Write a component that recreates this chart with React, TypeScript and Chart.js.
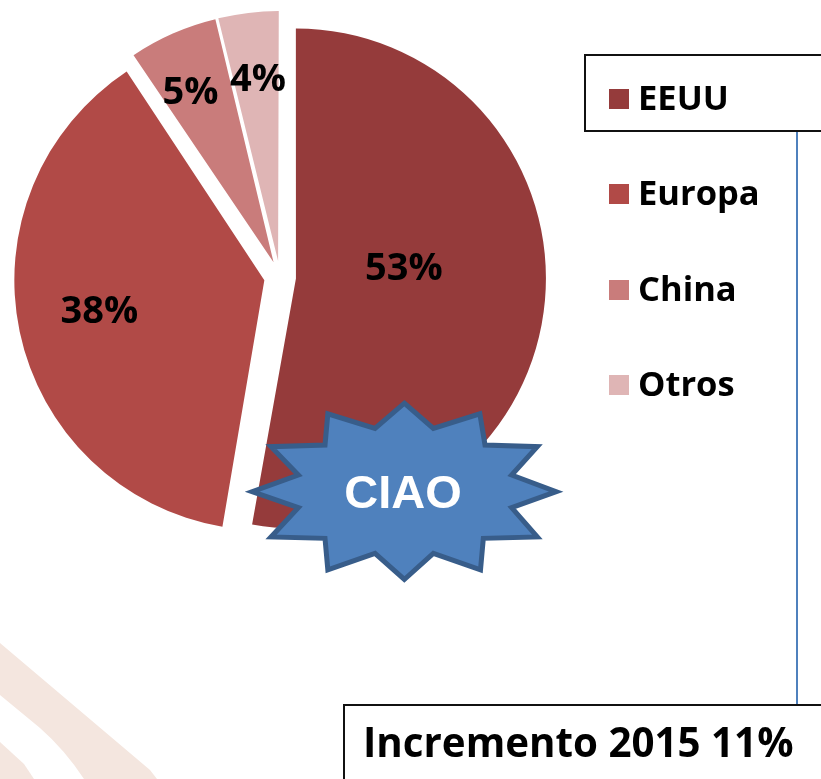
import React, { useEffect, useRef } from "react";
import { Chart, registerables } from "chart.js";

Chart.register(...registerables);

const categories = ["EEUU", "Europa", "China", "Otros"];
const shares = [52.8, 37.8, 5.6, 3.8];
const shareLabels = ["53%", "38%", "5%", "4%"];
const colors = ["#953B3B", "#B14A47", "#C97C7B", "#DFB5B5"];
const note = "Incremento 2015 11%";
const badge = "CIAO";

const TEXT_FONT = '"Open Sans", "Noto Sans", sans-serif';
const PIE_RADIUS = 250;
const EXPLODE = 64; // Chart.js translates an arc by offset / 4
const EDGE_FIX = 0.0105;
const labelShift = [
  [108, -9],
  [-165, 32],
  [-83, -169],
  [-20, -181],
];
const legendRowsY = [100, 195, 291, 386];
const starOuter = [
  [553, 30], [783, 68], [958, 168], [1025, 305], [958, 443], [785, 543],
  [553, 578], [320, 543], [147, 443], [80, 305], [147, 168], [320, 68],
];
const starInner = [
  [640, 115], [795, 165], [875, 255], [875, 353], [790, 445], [640, 490],
  [465, 490], [315, 445], [235, 353], [235, 255], [315, 165], [465, 115],
];

const backdrop = {
  id: "backdrop",
  afterDatasetUpdate(chart: any) {
    chart.getDatasetMeta(0).data.forEach((el: any) => {
      const span = el.endAngle - el.startAngle;
      const fix = 1 - Math.sin(Math.min(Math.PI, span));
      el.outerRadius = PIE_RADIUS - (EXPLODE / 4) * fix;
      el.startAngle -= EDGE_FIX;
      el.endAngle += EDGE_FIX;
    });
  },
  beforeDatasetsDraw(chart: any) {
    const c = chart.ctx;
    c.save();
    c.fillStyle = "#F4E6DF";
    c.beginPath();
    c.moveTo(0, 643);
    c.lineTo(150, 770);
    c.lineTo(157, 779);
    c.lineTo(84, 779);
    c.quadraticCurveTo(65, 750, 40, 728);
    c.lineTo(0, 695);
    c.closePath();
    c.fill();
    c.beginPath();
    c.moveTo(0, 742);
    c.lineTo(24, 764);
    c.lineTo(34, 779);
    c.lineTo(0, 779);
    c.closePath();
    c.fill();
    c.restore();
  },
};

const overlay = {
  id: "overlay",
  afterDatasetsDraw(chart: any) {
    const c = chart.ctx;
    c.save();
    // slice percentages
    c.fillStyle = "#000";
    c.textAlign = "center";
    c.textBaseline = "middle";
    c.font = `bold 38px ${TEXT_FONT}`;
    chart.getDatasetMeta(0).data.forEach((el: any, i: number) => {
      const mid = (el.startAngle + el.endAngle) / 2;
      const off = el.options.offset / 4;
      const x = el.x + Math.cos(mid) * off + labelShift[i][0];
      const y = el.y + Math.sin(mid) * off + labelShift[i][1];
      c.fillText(shareLabels[i], x, y);
    });

    // connector + boxes
    c.strokeStyle = "#4F81BD";
    c.lineWidth = 2;
    c.beginPath();
    c.moveTo(797, 131);
    c.lineTo(797, 705);
    c.stroke();

    c.strokeStyle = "#111";
    c.lineWidth = 2;
    c.strokeRect(585, 55, 260, 76);
    c.strokeRect(344, 705, 520, 100);

    // legend
    c.textAlign = "left";
    c.font = `bold 34.5px ${TEXT_FONT}`;
    categories.forEach((name, i) => {
      const y = legendRowsY[i];
      c.fillStyle = colors[i];
      c.fillRect(609, y - 11, 20, 20);
      c.fillStyle = "#000";
      c.fillText(name, 638, y);
    });

    // note
    c.font = `bold 40.3px ${TEXT_FONT}`;
    c.fillStyle = "#000";
    c.fillText(note, 363, 746);

    // starburst
    const sx = 553;
    const sy = 305;
    c.beginPath();
    starOuter.forEach((p, i) => {
      const q = starInner[i];
      const k = i % 3 === 0 ? 0.965 : 0.985;
      const ox = 220 + (sx + (p[0] - sx) * k) / 3;
      const oy = 390 + (sy + (p[1] - sy) * k) / 3;
      if (i === 0) c.moveTo(ox, oy);
      else c.lineTo(ox, oy);
      c.lineTo(220 + q[0] / 3, 390 + q[1] / 3);
    });
    c.closePath();
    c.fillStyle = "#4F81BD";
    c.fill();
    c.strokeStyle = "#385D8A";
    c.lineWidth = 5;
    c.lineJoin = "miter";
    c.stroke();

    c.fillStyle = "#fff";
    c.textAlign = "center";
    c.font = 'bold 47px "Liberation Sans", Arial, sans-serif';
    c.fillText(badge, 403, 495);
    c.restore();
  },
};

export default function App() {
  const ref = useRef<HTMLCanvasElement | null>(null);
  useEffect(() => {
    document.body.style.margin = "0";
    const chart = new Chart(ref.current as HTMLCanvasElement, {
      type: "pie",
      data: {
        labels: categories,
        datasets: [
          {
            data: shares,
            backgroundColor: colors,
            borderWidth: 0,
            offset: EXPLODE,
          },
        ],
      },
      options: {
        responsive: false,
        animation: false,
        radius: PIE_RADIUS,
        layout: { padding: { left: 0, top: 0, right: 261, bottom: 225 } },
        plugins: { legend: { display: false }, tooltip: { enabled: false } },
      },
      plugins: [backdrop, overlay],
    } as any);
    return () => chart.destroy();
  }, []);
  return (
    <div style={{ width: 821, height: 779, overflow: "hidden" }}>
      <canvas ref={ref} width={821} height={779} style={{ display: "block" }} />
    </div>
  );
}
